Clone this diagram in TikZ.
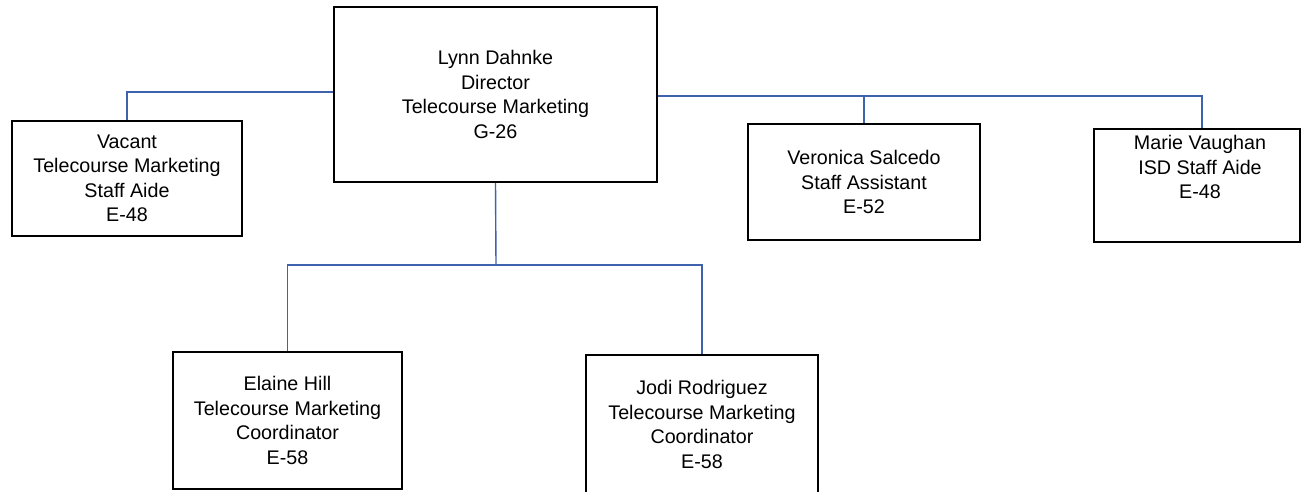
\documentclass[tikz,border=0pt]{standalone}
\usepackage{fontspec}
\setmainfont{Liberation Sans}
\definecolor{connblue}{HTML}{3F62AE}
\begin{document}
\begin{tikzpicture}[x=1pt,y=-1pt,
  box/.style={draw=black,line width=1.8pt,fill=white,align=center,inner sep=0pt,
    font=\fontsize{19.7}{24.4}\selectfont},
  txt/.style={align=center,inner sep=0pt,font=\fontsize{19.7}{24.4}\selectfont},
  conn/.style={draw=connblue,line width=1.4pt}]
\useasboundingbox (0,0) rectangle (1301,492);
\fill[white] (0,0) rectangle (1301,492);
\coordinate (bus) at (496,265);
\node[box,minimum width=323pt,minimum height=175pt] (dir) at (495.5,94.5)
  {Lynn Dahnke\\Director\\Telecourse Marketing\\G-26};
\node[box,minimum width=230pt,minimum height=115pt] (vac) at (127,178.5)
  {Vacant\\Telecourse Marketing\\Staff Aide\\E-48};
\node[box,minimum width=232pt,minimum height=116pt] (ver) at (864,182)
  {Veronica Salcedo\\Staff Assistant\\E-52};
\node[box,minimum width=206pt,minimum height=113pt] (mar) at (1197,185.5) {};
\node[txt] (marT) at (1200,167) {Marie Vaughan\\ISD Staff Aide\\E-48};
\node[box,minimum width=229pt,minimum height=137pt] (ela) at (287.5,420.5)
  {Elaine Hill\\Telecourse Marketing\\Coordinator\\E-58};
\node[box,minimum width=232pt,minimum height=139pt] (jod) at (702,424.5)
  {Jodi Rodriguez\\Telecourse Marketing\\Coordinator\\E-58};
\coordinate (rbus) at ([yshift=-1.5pt]dir.east);
\coordinate (lbus) at ([yshift=2.5pt]dir.west);
% connectors
\draw[conn] (vac.north) |- (lbus);
\draw[conn] (rbus) -| ([xshift=5pt]mar.north);
\draw[conn] (ver.north) -- (ver.north |- rbus);
\draw[conn] (dir.south) -- (bus);
\draw[conn] (ela.north) |- (bus) -| (jod.north);
\end{tikzpicture}
\end{document}
